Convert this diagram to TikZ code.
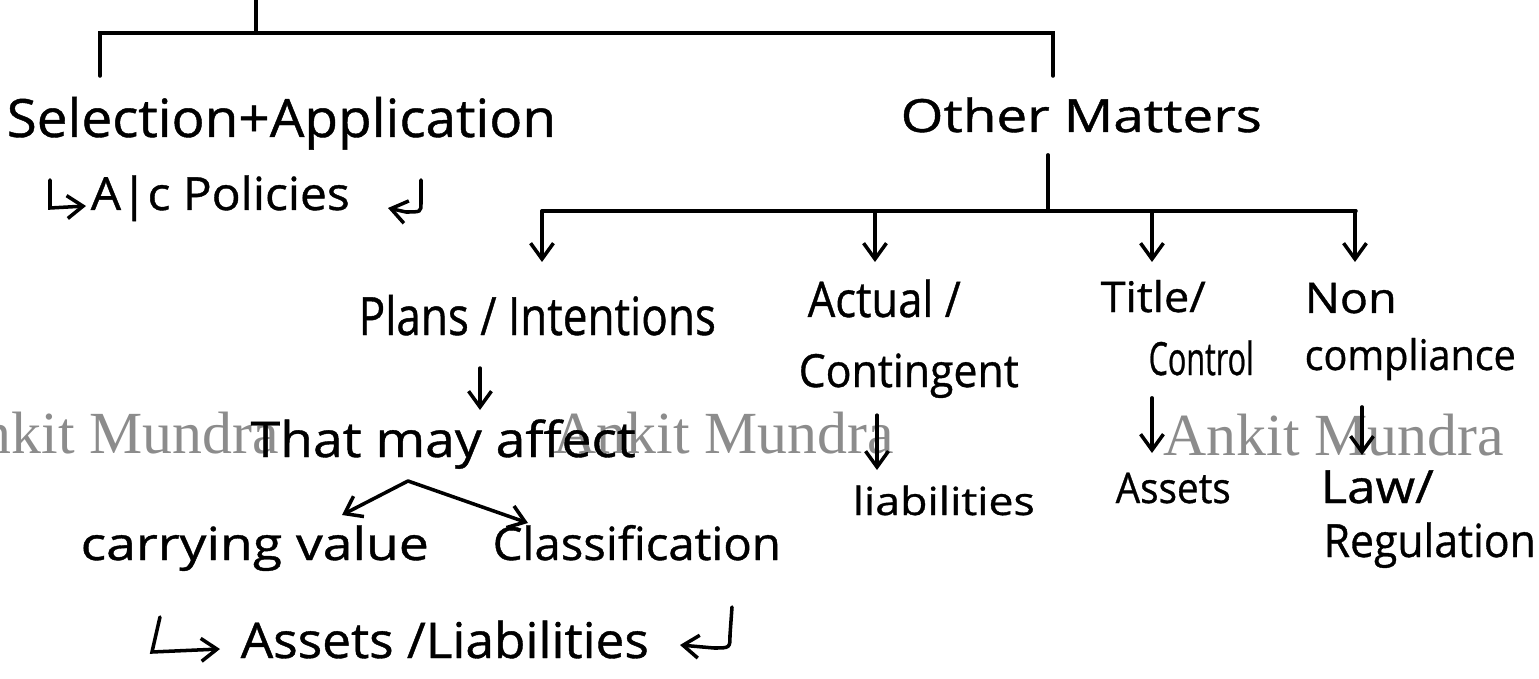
\documentclass[tikz,border=0pt]{standalone}
\usepackage{fontspec}
\usepackage{graphicx}
\usetikzlibrary{arrows.meta}

\newfontfamily\handfont[FakeBold=0.8]{Open Sans}
\newfontfamily\markfont{Liberation Serif}
\definecolor{markgray}{RGB}{140,140,140}

% stretch a label to a given width, keeping its height
\newcommand{\hw}[2]{\resizebox{#1}{\height}{#2}}

\tikzset{
  line/.style={line width=1pt, line cap=round},
  arr/.style={line, -{Straight Barb[length=4.5pt,width=6.5pt]}},
  hand/.style={anchor=base west, inner sep=0pt, font=\handfont\fontsize{#1}{#1}\selectfont},
  wmark/.style={anchor=base west, inner sep=0pt, text=markgray, font=\markfont\fontsize{17}{17}\selectfont},
}

\begin{document}
\begin{tikzpicture}[x=0.01cm,y=-0.01cm]

\useasboundingbox (0,0) rectangle (1539,679);

% watermark row
\node[wmark] (wm1) at (-62,453) {Ankit Mundra};
\node[wmark] (wm2) at (553,453) {Ankit Mundra};
\node[wmark] (wm3) at (1163,455) {Ankit Mundra};

% top split
\coordinate (root) at (256,0);
\coordinate (railL) at (100,33);
\coordinate (railR) at (1053,33);
\coordinate (legL) at (100,76);
\coordinate (legR) at (1053,76);
\draw[line] (root) -- (root |- railL);
\draw[line] (legL) -- (railL) -- (railR) -- (legR);

\node[hand=15] (sel) at (6,137) {\hw{5.49cm}{Selection+Application}};
\node[hand=13] (pol) at (90,210) {\hw{2.59cm}{A|c Policies}};
\draw[arr] (50,180) -- (50,208) -- (86,206);
\draw[arr] (421,180) -- (421,203) .. controls (421,212) .. (406,212) -- (388,208);

\node[hand=13] (other) at (900,132) {\hw{3.61cm}{Other Matters}};

% other matters branches
\coordinate (railO) at (1048,211);
\coordinate (railB) at (542,211);
\coordinate (railE) at (1356,211);
\draw[line] ([yshift=-6.5pt]other.base -| railO) -- (railO);
\draw[line] (railB) -- (railE);

\coordinate (toPlans) at (542,262);
\coordinate (toActual) at (875,262);
\coordinate (toTitle) at (1152,262);
\coordinate (toNon) at (1355,262);
\draw[arr] (railB) -- (toPlans);
\draw[arr] (railB -| toActual) -- (toActual);
\draw[arr] (railB -| toTitle) -- (toTitle);
\draw[arr] (railB -| toNon) -- (toNon);

\node[hand=15] (plans) at (358,335) {\hw{3.57cm}{Plans / Intentions}};
\node[hand=14] (actual) at (807,317) {\hw{1.53cm}{Actual /}};
\node[hand=13] (conting) at (798,387) {\hw{2.2cm}{Contingent}};
\node[hand=12] (title) at (1100,312) {\hw{1.05cm}{Title/}};
\node[hand=13] (control) at (1148,375) {\hw{1.05cm}{Control}};
\node[hand=12] (non) at (1304,313) {\hw{0.92cm}{Non}};
\node[hand=12] (compl) at (1304,370) {\hw{2.11cm}{compliance}};

% plans / intentions
\coordinate (dropP) at (480,410);
\draw[arr] ([yshift=-9.4pt]plans.base -| dropP) -- (dropP);
\node[hand=14] (affect) at (250,457) {\hw{3.85cm}{That may affect}};

\coordinate (apex) at (408,481);
\coordinate (toCarry) at (342,515);
\coordinate (toClass) at (528,523);
\draw[arr] (apex) -- (toCarry);
\draw[arr] (apex) -- (toClass);

\node[hand=13] (carry) at (80,560) {\hw{3.48cm}{carrying value}};
\node[hand=13] (class) at (492,560) {\hw{2.88cm}{Classification}};
\node[hand=14] (al) at (240,658) {\hw{4.08cm}{Assets /Liabilities}};
\draw[arr] (160,617) -- (152,652) -- (220,649);
\draw[arr] (732,607) -- (730,635) .. controls (730,648) .. (714,648) -- (680,645);

% remaining columns
\coordinate (dropC) at (877,470);
\draw[arr] ([yshift=-8pt]conting.base -| dropC) -- (dropC);
\node[hand=11] (liab) at (852,515) {\hw{1.82cm}{liabilities}};

\coordinate (dropT) at (1152,453);
\draw[arr] ([yshift=-6.5pt]control.base -| dropT) -- (dropT);
\node[hand=12] (assets) at (1115,503) {\hw{1.15cm}{Assets}};

\coordinate (dropN) at (1362,455);
\draw[arr] ([yshift=-10.5pt]compl.base -| dropN) -- (dropN);
\node[hand=13] (law) at (1320,503) {\hw{1.13cm}{Law/}};
\node[hand=13] (regul) at (1323,557) {\hw{2.12cm}{Regulation}};

\end{tikzpicture}
\end{document}
